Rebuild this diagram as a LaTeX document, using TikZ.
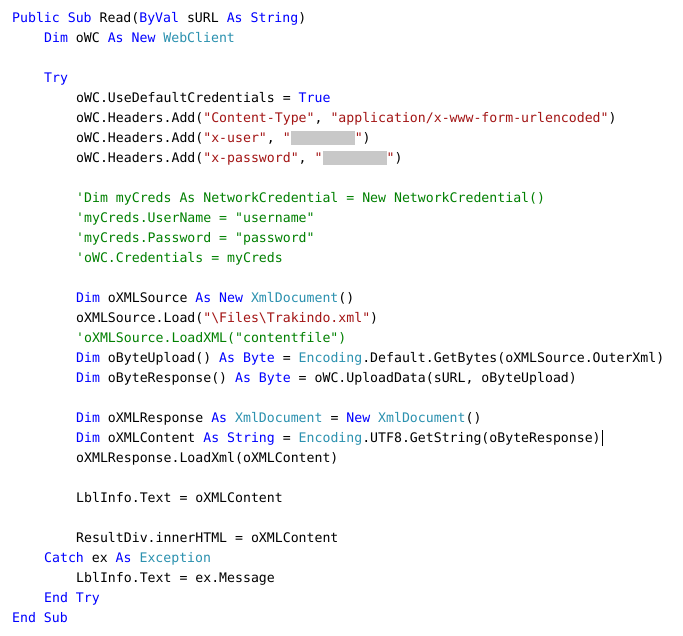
\documentclass[tikz,border=0pt]{standalone}
\usepackage{fontspec}
\setmonofont{DejaVu Sans Mono}
\definecolor{kwc}{RGB}{0,0,255}
\definecolor{tyc}{RGB}{43,145,175}
\definecolor{stc}{RGB}{163,21,21}
\definecolor{cmc}{RGB}{0,128,0}
\newcommand{\kw}[1]{\textcolor{kwc}{#1}}
\newcommand{\ty}[1]{\textcolor{tyc}{#1}}
\newcommand{\st}[1]{\textcolor{stc}{#1}}
\newcommand{\cm}[1]{\textcolor{cmc}{#1}}
\newcommand{\redact}{\textcolor[RGB]{200,200,200}{\rule[-3pt]{64pt}{14pt}}}
\tikzset{codeline/.style={anchor=base west,inner sep=0pt,font=\ttfamily\fontsize{13.2}{15}\selectfont}}
\begin{document}
\begin{tikzpicture}[x=1pt,y=-1pt]
\useasboundingbox[fill=white] (0,0) rectangle (683,635);
\node[codeline] (l1) at (12,22) {\kw{Public Sub} Read(\kw{ByVal} sURL \kw{As String})};
\node[codeline] (l2) at (44,42) {\kw{Dim} oWC \kw{As New} \ty{WebClient}};
\node[codeline] (l3) at (44,82) {\kw{Try}};
\node[codeline] (l4) at (76,102) {oWC.UseDefaultCredentials = \kw{True}};
\node[codeline] (l5) at (76,122) {oWC.Headers.Add(\st{"Content-Type"}, \st{"application/x-www-form-urlencoded"})};
\node[codeline] (l6) at (76,142) {oWC.Headers.Add(\st{"x-user"}, \st{"}\redact\st{"})};
\node[codeline] (l7) at (76,162) {oWC.Headers.Add(\st{"x-password"}, \st{"}\redact\st{"})};
\node[codeline] (l8) at (76,202) {\cm{'Dim myCreds As NetworkCredential = New NetworkCredential()}};
\node[codeline] (l9) at (76,222) {\cm{'myCreds.UserName = "username"}};
\node[codeline] (l10) at (76,242) {\cm{'myCreds.Password = "password"}};
\node[codeline] (l11) at (76,262) {\cm{'oWC.Credentials = myCreds}};
\node[codeline] (l12) at (76,302) {\kw{Dim} oXMLSource \kw{As New} \ty{XmlDocument}()};
\node[codeline] (l13) at (76,322) {oXMLSource.Load(\st{"\textbackslash Files\textbackslash Trakindo.xml"})};
\node[codeline] (l14) at (76,342) {\cm{'oXMLSource.LoadXML("contentfile")}};
\node[codeline] (l15) at (76,362) {\kw{Dim} oByteUpload() \kw{As Byte} = \ty{Encoding}.Default.GetBytes(oXMLSource.OuterXml)};
\node[codeline] (l16) at (76,382) {\kw{Dim} oByteResponse() \kw{As Byte} = oWC.UploadData(sURL, oByteUpload)};
\node[codeline] (l17) at (76,422) {\kw{Dim} oXMLResponse \kw{As} \ty{XmlDocument} = \kw{New} \ty{XmlDocument}()};
\node[codeline] (l18) at (76,442) {\kw{Dim} oXMLContent \kw{As String} = \ty{Encoding}.UTF8.GetString(oByteResponse)};
\draw[line width=1.2pt] ([xshift=1.5pt]l18.base east) ++(0,4) -- ++(0,-16);
\node[codeline] (l19) at (76,462) {oXMLResponse.LoadXml(oXMLContent)};
\node[codeline] (l20) at (76,502) {LblInfo.Text = oXMLContent};
\node[codeline] (l21) at (76,542) {ResultDiv.innerHTML = oXMLContent};
\node[codeline] (l22) at (44,562) {\kw{Catch} ex \kw{As} \ty{Exception}};
\node[codeline] (l23) at (76,582) {LblInfo.Text = ex.Message};
\node[codeline] (l24) at (44,602) {\kw{End Try}};
\node[codeline] (l25) at (12,622) {\kw{End Sub}};
\end{tikzpicture}
\end{document}
